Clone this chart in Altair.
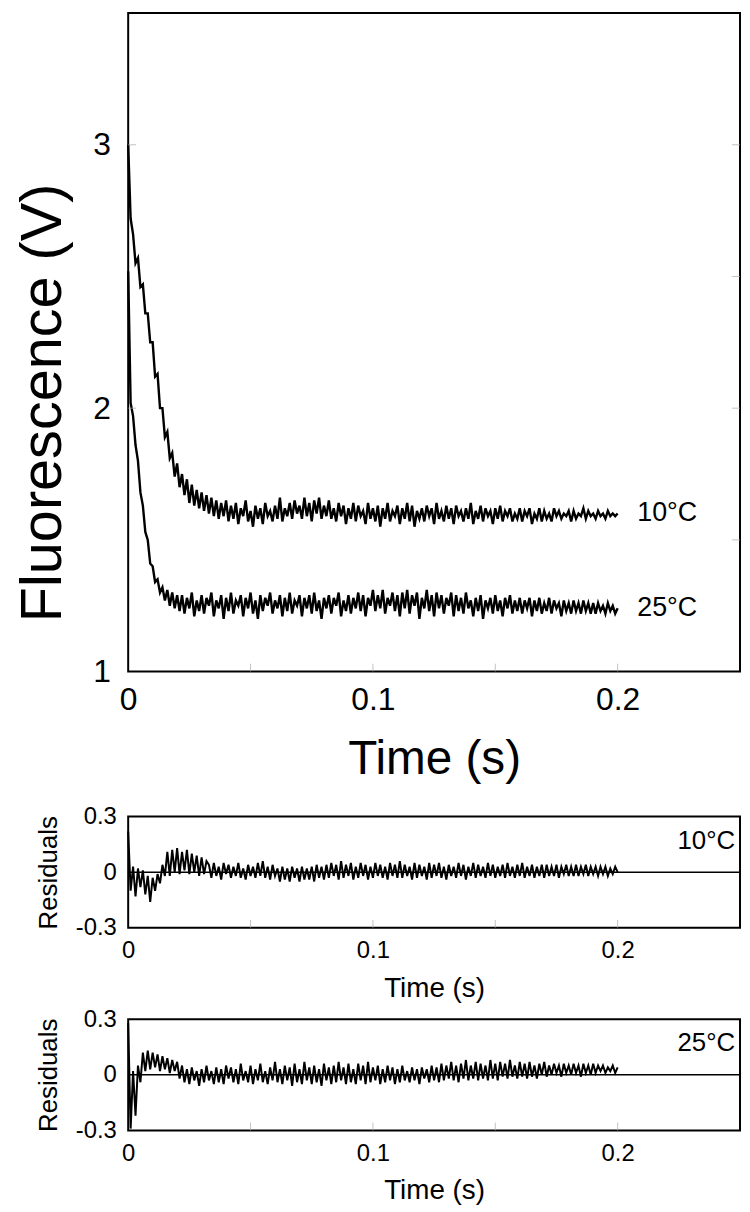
import altair as alt
import pandas as pd

FONT = "Liberation Sans"
T_STEP = 0.001  # sampling interval of the traces (s)

# ---------- Fluorescence traces (V), one value per ms from t = 0 ----------
FLUOR_10C = [
    3.00, 2.72, 2.66, 2.55, 2.57, 2.46, 2.47, 2.36, 2.36, 2.25,
    2.25, 2.12, 2.13, 2.00, 2.00, 1.89, 1.91, 1.81, 1.83, 1.74,
    1.79, 1.70, 1.75, 1.67, 1.73, 1.64, 1.71, 1.63, 1.69, 1.62,
    1.68, 1.61, 1.67, 1.60, 1.66, 1.59, 1.65, 1.58, 1.64, 1.59,
    1.65,
    1.57, 1.63, 1.58, 1.64, 1.56, 1.62, 1.59, 1.65, 1.57, 1.61,
    1.55, 1.63, 1.58, 1.62, 1.56, 1.64, 1.59, 1.61, 1.57, 1.63,
    1.58, 1.66, 1.57, 1.62, 1.59, 1.64, 1.58, 1.65, 1.60, 1.63,
    1.58, 1.66, 1.59, 1.64, 1.57, 1.65, 1.60, 1.66, 1.58, 1.63,
    1.59, 1.65, 1.58, 1.62, 1.57, 1.64, 1.59, 1.63, 1.56, 1.62,
    1.58, 1.64, 1.57, 1.63, 1.59, 1.61, 1.56, 1.64, 1.58, 1.62,
    1.57, 1.63, 1.55, 1.62, 1.58, 1.64, 1.57, 1.61, 1.59, 1.63,
    1.56, 1.62, 1.58, 1.64, 1.57, 1.63, 1.55, 1.61, 1.58, 1.62,
    1.57, 1.63, 1.59, 1.62, 1.56, 1.64, 1.58, 1.61, 1.57, 1.63,
    1.58, 1.62, 1.56, 1.63, 1.59, 1.61, 1.57, 1.62, 1.58, 1.64,
    1.56, 1.61, 1.58, 1.63, 1.57, 1.62, 1.59, 1.61, 1.56, 1.62,
    1.58, 1.63, 1.57, 1.61, 1.59, 1.62, 1.57, 1.60, 1.58, 1.62,
    1.57, 1.61, 1.59, 1.62, 1.56, 1.60, 1.58, 1.62, 1.57, 1.61,
    1.58, 1.60, 1.57, 1.62, 1.59, 1.61, 1.58, 1.60, 1.59, 1.61,
    1.57, 1.61, 1.58, 1.60, 1.59, 1.62, 1.58, 1.61, 1.59, 1.60,
    1.58, 1.61, 1.59, 1.60, 1.58, 1.61, 1.59, 1.60, 1.59, 1.60,
]

FLUOR_25C = [
    2.52, 2.02, 1.97, 1.86, 1.80, 1.68, 1.63, 1.53, 1.50, 1.41,
    1.40, 1.34, 1.35, 1.30, 1.32, 1.27, 1.31, 1.25, 1.30, 1.24,
    1.29,
    1.23, 1.29, 1.22, 1.28, 1.24, 1.30, 1.21, 1.27, 1.23, 1.29,
    1.22, 1.28, 1.25, 1.30, 1.21, 1.27, 1.24, 1.29, 1.20, 1.28,
    1.23, 1.30, 1.22, 1.27, 1.25, 1.29, 1.21, 1.28, 1.24, 1.30,
    1.22, 1.27, 1.20, 1.29, 1.23, 1.28, 1.25, 1.30, 1.22, 1.27,
    1.24, 1.29, 1.21, 1.28, 1.23, 1.30, 1.22, 1.27, 1.25, 1.29,
    1.21, 1.28, 1.24, 1.29, 1.22, 1.30, 1.23, 1.27, 1.20, 1.28,
    1.24, 1.29, 1.22, 1.28, 1.25, 1.30, 1.21, 1.27, 1.23, 1.29,
    1.22, 1.28, 1.24, 1.30, 1.23, 1.29, 1.21, 1.28, 1.25, 1.31,
    1.23, 1.29, 1.24, 1.31, 1.22, 1.28, 1.25, 1.30, 1.23, 1.29,
    1.21, 1.30, 1.24, 1.31, 1.22, 1.29, 1.25, 1.30, 1.20, 1.28,
    1.24, 1.31, 1.23, 1.29, 1.21, 1.30, 1.24, 1.29, 1.22, 1.28,
    1.25, 1.30, 1.21, 1.29, 1.23, 1.28, 1.22, 1.30, 1.24, 1.27,
    1.21, 1.28, 1.23, 1.29, 1.20, 1.27, 1.24, 1.28, 1.22, 1.29,
    1.23, 1.27, 1.21, 1.28, 1.24, 1.29, 1.22, 1.27, 1.23, 1.28,
    1.22, 1.27, 1.24, 1.28, 1.21, 1.27, 1.23, 1.28, 1.22, 1.26,
    1.23, 1.28, 1.22, 1.27, 1.24, 1.26, 1.21, 1.27, 1.23, 1.26,
    1.22, 1.27, 1.23, 1.26, 1.22, 1.27, 1.23, 1.26, 1.22, 1.26,
    1.22, 1.26, 1.23, 1.25, 1.22, 1.26, 1.23, 1.25, 1.22, 1.24,
]

# ---------- Residuals of the fits ----------
RES_10C = [
    0.22, -0.10, 0.03, -0.13, 0.02, -0.08, 0.01, -0.12, -0.02, -0.16,
    -0.03, -0.10, -0.01, -0.06, 0.04, -0.02, 0.11, -0.02, 0.12, 0.00,
    0.13, -0.01, 0.11, 0.01, 0.12, -0.01, 0.10, 0.00, 0.09, -0.02,
    0.08, -0.01, 0.06,
    0.04, -0.03, 0.05, -0.02, 0.03, -0.04, 0.05, -0.01, 0.04, -0.03,
    0.03, -0.02, 0.05, -0.03, 0.02, -0.04, 0.04, -0.02, 0.03, -0.03,
    0.05, -0.02, 0.06, -0.03, 0.03, -0.04, 0.04, -0.02, 0.02, -0.05,
    0.03, -0.04, 0.02, -0.05, 0.03, -0.03, 0.02, -0.05, 0.03, -0.04,
    0.02, -0.04, 0.03, -0.05, 0.04, -0.03, 0.03, -0.04, 0.04, -0.03,
    0.05, -0.02, 0.04, -0.04, 0.06, -0.03, 0.04, -0.02, 0.05, -0.04,
    0.03, -0.03, 0.05, -0.02, 0.04, -0.04, 0.03, -0.03, 0.05, -0.02,
    0.04, -0.03, 0.03, -0.04, 0.05, -0.02, 0.04, -0.03, 0.06, -0.03,
    0.04, -0.02, 0.03, -0.04, 0.05, -0.03, 0.04, -0.02, 0.03, -0.04,
    0.05, -0.03, 0.04, -0.02, 0.05, -0.03, 0.03, -0.04, 0.04, -0.02,
    0.03, -0.03, 0.05, -0.02, 0.04, -0.04, 0.03, -0.02, 0.05, -0.03,
    0.04, -0.02, 0.03, -0.03, 0.05, -0.02, 0.04, -0.03, 0.03, -0.02,
    0.04, -0.03, 0.05, -0.02, 0.03, -0.03, 0.04, -0.02, 0.05, -0.03,
    0.03, -0.02, 0.04, -0.03, 0.03, -0.02, 0.04, -0.03, 0.04, -0.02,
    0.03, -0.02, 0.04, -0.03, 0.03, -0.01, 0.04, -0.02, 0.03, -0.02,
    0.04, -0.02, 0.03, -0.01, 0.04, -0.02, 0.03, -0.01, 0.03, -0.02,
    0.03, -0.01, 0.03, -0.02, 0.02, -0.01, 0.03, 0.00,
]

RES_25C = [
    0.28, -0.29, 0.02, -0.22, 0.05, -0.04, 0.12, 0.02, 0.13, 0.03,
    0.12, 0.04, 0.11, 0.02, 0.10, 0.03, 0.09, 0.01, 0.08, 0.02,
    0.07, -0.02, 0.05, -0.04,
    0.03, -0.05, 0.04, -0.03, 0.02, -0.06, 0.03, -0.04, 0.05, -0.03,
    0.02, -0.05, 0.04, -0.04, 0.03, -0.05, 0.05, -0.02, 0.04, -0.04,
    0.03, -0.05, 0.06, -0.03, 0.02, -0.04, 0.05, -0.05, 0.03, -0.03,
    0.06, -0.04, 0.02, -0.05, 0.04, -0.03, 0.07, -0.04, 0.03, -0.05,
    0.05, -0.03, 0.04, -0.06, 0.06, -0.04, 0.03, -0.05, 0.07, -0.03,
    0.04, -0.05, 0.05, -0.04, 0.03, -0.06, 0.06, -0.03, 0.04, -0.05,
    0.05, -0.04, 0.07, -0.03, 0.04, -0.05, 0.06, -0.04, 0.03, -0.05,
    0.06, -0.03, 0.05, -0.05, 0.07, -0.04, 0.04, -0.03, 0.05, -0.05,
    0.03, -0.04, 0.05, -0.03, 0.04, -0.05, 0.03, -0.04, 0.05, -0.03,
    0.02, -0.04, 0.04, -0.03, 0.03, -0.05, 0.04, -0.02, 0.03, -0.04,
    0.05, -0.03, 0.04, -0.04, 0.06, -0.03, 0.05, -0.02, 0.07, -0.03,
    0.05, -0.04, 0.06, -0.02, 0.08, -0.03, 0.05, -0.02, 0.07, -0.03,
    0.06, -0.02, 0.05, -0.03, 0.08, -0.02, 0.06, -0.03, 0.07, -0.01,
    0.06, -0.02, 0.08, -0.01, 0.05, -0.02, 0.07, -0.01, 0.06, -0.02,
    0.07, -0.01, 0.05, -0.02, 0.06, 0.00, 0.07, -0.01, 0.05, 0.00,
    0.06, 0.01, 0.05, -0.01, 0.06, 0.01, 0.05, 0.00, 0.06, 0.01,
    0.05, -0.01, 0.06, 0.01, 0.05, 0.00, 0.06, 0.01, 0.05, 0.02,
    0.05, 0.01, 0.04, 0.02, 0.05, 0.01, 0.04,
]

# ---------- Labels and axis settings ----------
SERIES = ["10°C", "25°C"]
TOP_LABEL_T = [0.208, 0.208]
TOP_LABEL_V = [1.60, 1.24]
RES_LABEL_T = 0.248
RES_LABEL_V = 0.17

TIME_DOMAIN = [0, 0.25]
TIME_TICKS = [0, 0.1, 0.2]
TIME_MINOR = [0.05, 0.1, 0.15, 0.2]
FLUOR_DOMAIN = [1, 3.5]
FLUOR_TICKS = [1, 2, 3]
FLUOR_RIGHT_MINOR = [1.5, 2.0, 2.5, 3.0]
FLUOR_LEFT_MINOR = [2.0, 3.0]
RES_DOMAIN = [-0.3, 0.3]
RES_TICKS = [-0.3, 0, 0.3]

TICK_GREY = "#a8a8a8"


def trace(values, name):
    return pd.DataFrame({
        "t": [i * T_STEP for i in range(len(values))],
        "v": values,
        "s": name,
    })


# ================= Top panel =================
x_top = alt.X(
    "t:Q",
    scale=alt.Scale(domain=TIME_DOMAIN, nice=False, zero=False),
    axis=alt.Axis(values=TIME_TICKS, format="~g", labelFontSize=32,
                  labelPadding=13, labelFlush=False, ticks=False, tickSize=0,
                  domain=False, grid=False, title=["Time (s)", ""],
                  titleFontSize=48, titlePadding=21, titleLineHeight=16),
)
y_top = alt.Y(
    "v:Q",
    scale=alt.Scale(domain=FLUOR_DOMAIN, nice=False, zero=False),
    axis=alt.Axis(values=FLUOR_TICKS, format="~g", labelFontSize=32,
                  labelPadding=18, ticks=False, tickSize=0, domain=False,
                  grid=False, title="Fluorescence (V)", titleFontSize=58,
                  titlePadding=20, titleY=392),
)

top_df = pd.concat([trace(FLUOR_10C, SERIES[0]), trace(FLUOR_25C, SERIES[1])])
top_lines = alt.Chart(top_df).mark_line(color="black", strokeWidth=2.4).encode(
    x=x_top, y=y_top, detail="s:N")

top_lab_df = pd.DataFrame({"t": TOP_LABEL_T, "v": TOP_LABEL_V, "s": SERIES})
top_labels = alt.Chart(top_lab_df).mark_text(
    align="left", baseline="middle", fontSize=27, font=FONT, color="black"
).encode(x=x_top, y=y_top, text="s:N")

bot_ticks = alt.Chart(pd.DataFrame({"t": TIME_MINOR, "v": [FLUOR_DOMAIN[0]] * len(TIME_MINOR)})).mark_tick(
    orient="vertical", size=8, thickness=1, color=TICK_GREY, yOffset=-4
).encode(x=x_top, y=y_top)
right_ticks = alt.Chart(pd.DataFrame({"t": [TIME_DOMAIN[1]] * len(FLUOR_RIGHT_MINOR), "v": FLUOR_RIGHT_MINOR})).mark_tick(
    orient="horizontal", size=8, thickness=1, color=TICK_GREY, xOffset=-4
).encode(x=x_top, y=y_top)
left_ticks = alt.Chart(pd.DataFrame({"t": [TIME_DOMAIN[0]] * len(FLUOR_LEFT_MINOR), "v": FLUOR_LEFT_MINOR})).mark_tick(
    orient="horizontal", size=8, thickness=1, color=TICK_GREY, xOffset=4
).encode(x=x_top, y=y_top)

top = alt.layer(top_lines, top_labels, bot_ticks, right_ticks, left_ticks).properties(
    width=616, height=663)


# ================= Residual panels =================
def residual_panel(values, name):
    x_res = alt.X(
        "t:Q",
        scale=alt.Scale(domain=TIME_DOMAIN, nice=False, zero=False),
        axis=alt.Axis(values=TIME_TICKS, format="~g", labelFontSize=24,
                      labelPadding=11, labelFlush=False, ticks=False,
                      tickSize=0, domain=False, grid=False, title="Time (s)",
                      titleFontSize=28, titlePadding=12),
    )
    y_res = alt.Y(
        "v:Q",
        scale=alt.Scale(domain=RES_DOMAIN, nice=False, zero=False),
        axis=alt.Axis(values=RES_TICKS,
                      labelExpr="datum.value < 0 ? '-' + format(-datum.value, '~g') : format(datum.value, '~g')",
                      labelFontSize=24, labelPadding=12, ticks=False,
                      tickSize=0, domain=False, grid=False, title="Residuals",
                      titleFontSize=26, titlePadding=14),
    )
    line = alt.Chart(trace(values, name)).mark_line(
        color="black", strokeWidth=2.0).encode(x=x_res, y=y_res)
    zero = alt.Chart(pd.DataFrame({"v": [0]})).mark_rule(
        color="black", strokeWidth=1.6).encode(y=y_res)
    label = alt.Chart(pd.DataFrame({"t": [RES_LABEL_T], "v": [RES_LABEL_V], "s": [name]})).mark_text(
        align="right", baseline="middle", fontSize=26, font=FONT, color="black"
    ).encode(x=x_res, y=y_res, text="s:N")
    ticks = alt.Chart(pd.DataFrame({"t": TIME_MINOR, "v": [RES_DOMAIN[0]] * len(TIME_MINOR)})).mark_tick(
        orient="vertical", size=8, thickness=1, color=TICK_GREY, yOffset=-4
    ).encode(x=x_res, y=y_res)
    return alt.layer(zero, line, label, ticks).properties(width=616, height=112)


res10 = residual_panel(RES_10C, SERIES[0])
res25 = residual_panel(RES_25C, SERIES[1])

chart = alt.vconcat(top, res10, res25, spacing=3).properties(
    padding={"left": 6, "top": 0, "right": 0, "bottom": 0}, background="white"
).configure_view(
    stroke="black", strokeWidth=2
).configure_axis(
    labelFont=FONT, titleFont=FONT, labelColor="black", titleColor="black",
    titleFontWeight="normal"
)

chart.save("out.html", embed_options={"renderer": "svg", "actions": False})
